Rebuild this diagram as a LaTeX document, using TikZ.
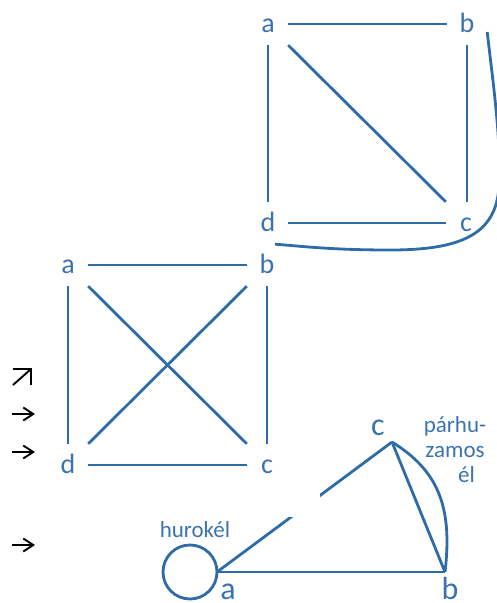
\documentclass[tikz,border=0pt]{standalone}
\usepackage{fontspec}
\setmainfont{Carlito}
\usetikzlibrary{arrows.meta}

\definecolor{gblue}{HTML}{2E6CA8}
\definecolor{gtext}{HTML}{3B73B0}

\tikzset{
    ln/.style={gblue, line width=2.8pt, line join=round},
    vlbl/.style={text=gtext, font=\fontsize{28}{30}\selectfont,
        minimum width=40pt, minimum height=42pt, inner sep=0pt,
        text height=18pt, text depth=2pt},
    plbl/.style={text=gtext, font=\fontsize{32}{34}\selectfont,
        inner sep=0pt, anchor=base},
    note/.style={text=gtext, font=\fontsize{23}{25}\selectfont,
        inner sep=0pt, align=center},
    sym/.style={black, line width=1.9pt},
}

\begin{document}
\begin{tikzpicture}[x=1pt, y=-1pt]
    \useasboundingbox (0,0) rectangle (496,603);

    % upper graph: square with one diagonal, b--d goes round the outside
    \node[vlbl] (ta) at (268,24)  {a};
    \node[vlbl] (tb) at (467,24)  {b};
    \node[vlbl] (tc) at (466,223) {c};
    \node[vlbl] (td) at (268,223) {d};
    \draw[ln] (ta.east) -- (tb.west);
    \draw[ln] (ta.south) -- (td.north);
    \draw[ln] (tb.south) -- (tb.south |- tc.north);
    \draw[ln] (td.east) -- (tc.west);
    \draw[ln] (ta.south east) -- (tc.north west);
    \draw[ln] ([yshift=-8pt]tb.east) .. controls (494,90) and (501,140) .. (499,185)
        .. controls (497,235) and (460,250) .. (390,250)
        .. controls (330,250) and (300,246) .. ([xshift=7pt]td.south);

    % middle graph: complete graph on four vertices
    \node[vlbl] (ma) at (68,265)  {a};
    \node[vlbl] (mb) at (267,265) {b};
    \node[vlbl] (mc) at (267,465) {c};
    \node[vlbl] (md) at (68,465)  {d};
    \draw[ln] (ma.east) -- (mb.west);
    \draw[ln] (ma.south) -- (md.north);
    \draw[ln] (mb.south) -- (mc.north);
    \draw[ln] (md.east) -- (mc.west);
    \draw[ln] (ma.south east) -- (mc.north west);
    \draw[ln] (md.north east) -- (mb.south west);

    % lower graph with a loop and a parallel edge
    \coordinate (pa) at (217,572);
    \coordinate (pb) at (445,572);
    \coordinate (pc) at (392,442);
    \node[plbl] (la) at (228,599) {a};
    \node[plbl] (lb) at (450,599) {b};
    \node[plbl] (lc) at (378,435) {c};
    \draw[ln] (pa) -- (pb);
    \draw[ln] (pa) -- (pc);
    \fill[white] (284,478) rectangle (320,517); % break in a--c
    \draw[ln] (pc) -- (pb);
    \draw[ln] (pc) .. controls (437,470) and (453,505) .. (pb);
    \draw[ln] (pa) arc[start angle=0, end angle=360, radius=27pt];
    \node[note] (loopnote) at (195,530) {hurokél};
    \node[note] (parnote) at (455,450) {párhu-\\zamos\\\hspace*{1em}él};

    % arrows at the left margin
    \draw[sym] (13,369) -- (31,369) -- (31,385);
    \draw[sym] (13,385) -- (31,369);
    \foreach \y in {414,452,545}
        \draw[sym, -{Straight Barb[length=10pt, width=13pt]}] (12,\y) -- (35,\y);
\end{tikzpicture}
\end{document}
